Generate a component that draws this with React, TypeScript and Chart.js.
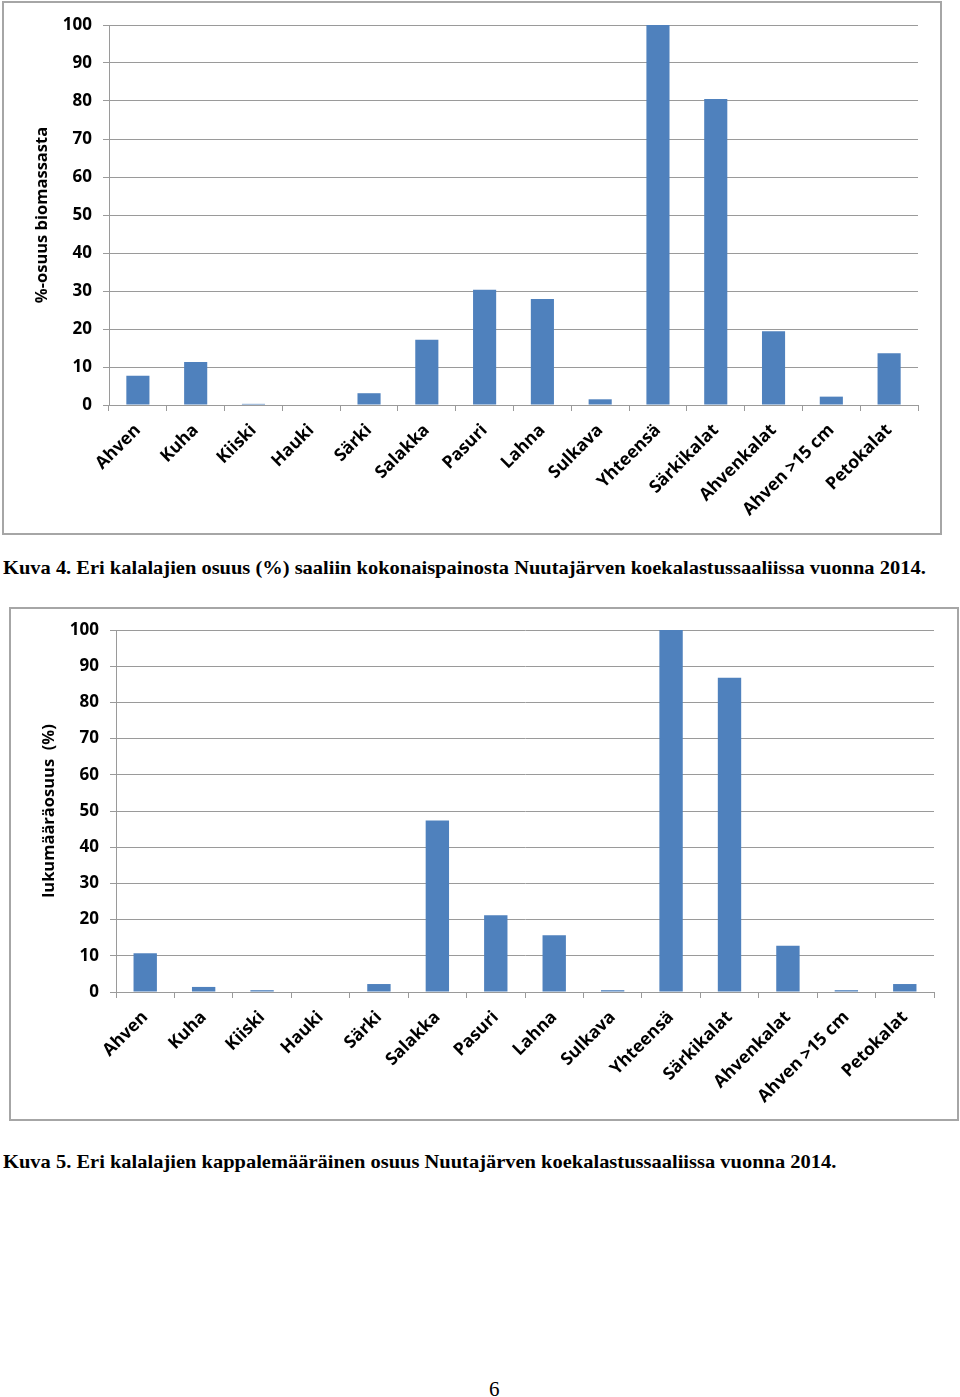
import React, { useEffect, useLayoutEffect, useRef, useState } from "react";
import { Chart, registerables } from "chart.js";

Chart.register(...registerables);

const categories = [
  "Ahven",
  "Kuha",
  "Kiiski",
  "Hauki",
  "Särki",
  "Salakka",
  "Pasuri",
  "Lahna",
  "Sulkava",
  "Yhteensä",
  "Särkikalat",
  "Ahvenkalat",
  "Ahven >15 cm",
  "Petokalat",
];

const biomassShare = [7.7, 11.3, 0.3, 0, 3.1, 17.2, 30.3, 27.9, 1.5, 100, 80.5, 19.4, 2.2, 13.6];
const countShare = [10.7, 1.4, 0.5, 0, 2.2, 47.4, 21.2, 15.7, 0.5, 100, 86.8, 12.8, 0.5, 2.2];

const yMin = 0;
const yMax = 100;
const yStep = 10;

const biomassTitle = "%-osuus biomassasta";
const countTitle = "lukumääräosuus  (%)";

const caption4 =
  "Kuva 4. Eri kalalajien osuus (%) saaliin kokonaispainosta Nuutajärven koekalastussaaliissa vuonna 2014.";
const caption5 =
  "Kuva 5. Eri kalalajien kappalemääräinen osuus Nuutajärven koekalastussaaliissa vuonna 2014.";
const pageNumber = "6";

const BAR_COLOR = "#4F81BD";
const GRID_COLOR = "#9a9a9a";
const Y_TICK_FONT = { family: "'Open Sans', 'Noto Sans', sans-serif", size: 17, weight: "bold" as const };
const X_TICK_FONT = { family: "'Open Sans', 'Noto Sans', sans-serif", size: 17.5, weight: "bold" as const };
const TITLE_FONT = { family: "'Open Sans', 'Noto Sans', sans-serif", size: 16.5, weight: "bold" as const };

type Area = { left: number; top: number; right: number; bottom: number };

function BarChart(props: {
  values: number[];
  yTitle: string;
  x: number;
  y: number;
  w: number;
  h: number;
  area: Area;
}) {
  const ref = useRef<HTMLCanvasElement | null>(null);
  const { values, yTitle, w, h, area } = props;
  useEffect(() => {
    if (!ref.current) return;
    const chart = new Chart(ref.current, {
      type: "bar",
      data: {
        labels: categories,
        datasets: [
          {
            data: values,
            backgroundColor: BAR_COLOR,
            borderWidth: 0,
            barPercentage: 0.4,
            categoryPercentage: 1,
          },
        ],
      },
      options: {
        responsive: false,
        animation: false,
        devicePixelRatio: 1,
        layout: { padding: { left: 0, top: area.top, right: w - area.right, bottom: 0 } },
        plugins: { legend: { display: false }, tooltip: { enabled: false } },
        scales: {
          x: {
            grid: {
              display: true,
              drawOnChartArea: false,
              offset: true,
              color: GRID_COLOR,
              tickLength: 6,
              lineWidth: 1,
            },
            border: { color: GRID_COLOR, width: 1 },
            ticks: {
              autoSkip: false,
              maxRotation: 45,
              minRotation: 45,
              color: "#000",
              font: X_TICK_FONT,
              padding: 9,
            },
            afterFit: (s: any) => {
              s.height = h - area.bottom;
            },
          },
          y: {
            min: yMin,
            max: yMax,
            ticks: { stepSize: yStep, color: "#000", font: Y_TICK_FONT, padding: 11 },
            grid: { color: GRID_COLOR, tickLength: 6, lineWidth: 1 },
            border: { color: GRID_COLOR, width: 1 },
            title: {
              display: true,
              text: yTitle,
              color: "#000",
              font: TITLE_FONT,
              padding: { top: 29, bottom: 0 },
            },
            afterFit: (s: any) => {
              s.width = area.left;
            },
          },
        },
      },
    });
    return () => chart.destroy();
  }, [values, yTitle, w, h]);
  return (
    <canvas
      ref={ref}
      width={w}
      height={h}
      style={{ position: "absolute", left: props.x, top: props.y, width: w, height: h }}
    />
  );
}

function Caption(props: { text: string; x: number; y: number; width: number }) {
  const ref = useRef<HTMLSpanElement | null>(null);
  const [scale, setScale] = useState(1);
  useLayoutEffect(() => {
    if (ref.current) {
      const natural = ref.current.offsetWidth;
      if (natural > 0) setScale(props.width / natural);
    }
  }, [props.text, props.width]);
  return (
    <span
      ref={ref}
      style={{
        position: "absolute",
        left: props.x,
        top: props.y,
        whiteSpace: "nowrap",
        fontFamily: "'Liberation Serif', 'Times New Roman', serif",
        fontWeight: "bold",
        fontSize: 19,
        lineHeight: "22px",
        color: "#000",
        transform: `scaleX(${scale})`,
        transformOrigin: "left top",
      }}
    >
      {props.text}
    </span>
  );
}

export default function App() {
  return (
    <div
      style={{
        position: "absolute",
        left: 0,
        top: 0,
        width: 960,
        height: 1397,
        background: "#fff",
        overflow: "hidden",
      }}
    >
      <div
        style={{
          position: "absolute",
          left: 2,
          top: 1,
          width: 936,
          height: 530,
          border: "2px solid #a6a6a6",
        }}
      />
      <BarChart
        values={biomassShare}
        yTitle={biomassTitle}
        x={3}
        y={2}
        w={936}
        h={530}
        area={{ left: 106, top: 23, right: 915, bottom: 403 }}
      />
      <Caption text={caption4} x={3} y={557} width={923} />

      <div
        style={{
          position: "absolute",
          left: 9,
          top: 607,
          width: 946,
          height: 510,
          border: "2px solid #a6a6a6",
        }}
      />
      <BarChart
        values={countShare}
        yTitle={countTitle}
        x={10}
        y={608}
        w={946}
        h={510}
        area={{ left: 106, top: 22, right: 924, bottom: 384 }}
      />
      <Caption text={caption5} x={3} y={1151} width={833} />

      <div
        style={{
          position: "absolute",
          left: 489,
          top: 1377,
          fontFamily: "'Liberation Serif', 'Times New Roman', serif",
          fontSize: 21,
          lineHeight: "24px",
          color: "#000",
        }}
      >
        {pageNumber}
      </div>
    </div>
  );
}
